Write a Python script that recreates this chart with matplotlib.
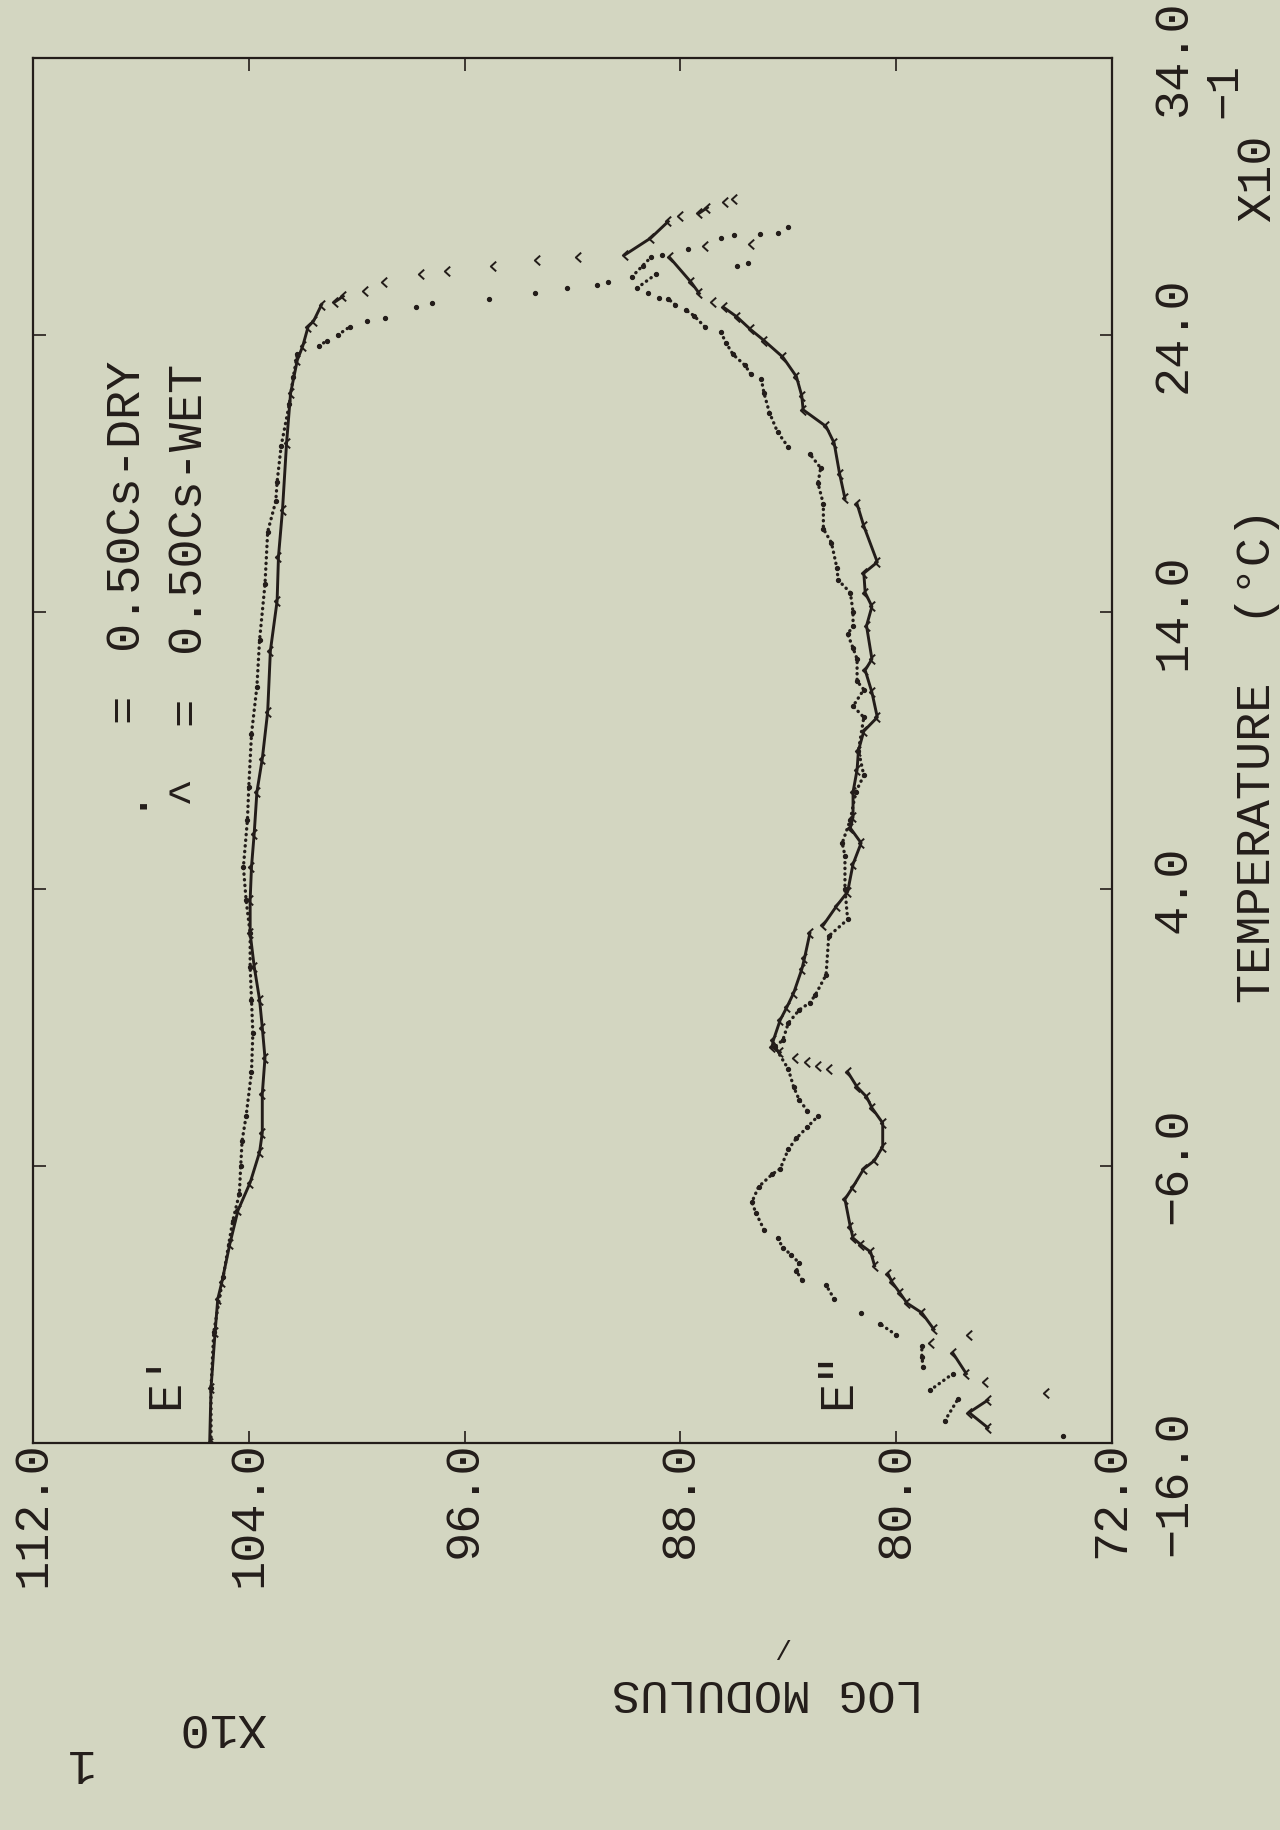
import matplotlib
matplotlib.use('Agg')
import matplotlib.pyplot as plt
import matplotlib.transforms as mtransforms
import numpy as np

# page is a landscape plotter chart turned 90 degrees: x = log modulus, y = temperature
modulus_ticks = [112, 104, 96, 88, 80, 72]
temp_ticks = [-16, -6, 4, 14, 24, 34]

# E' (storage), dry sample
e1_dry_t = [-16.0, -14.0, -12.0, -10.0, -8.0, -7.0, -6.0, -5.1, -4.2, -2.6, -1.2, 0.0, 1.2, 2.4,
            3.6, 4.8, 6.5, 7.7, 9.6, 11.3, 13.0, 15.0, 16.9, 18.0, 18.7, 20.0, 21.5, 22.5, 23.3,
            23.6, 23.8, 24.0, 24.3, 24.5, 24.6, 25.0, 25.15, 25.3, 25.5, 25.7, 25.8, 25.9, 26.1,
            26.5, 26.8, 26.9, 27.1, 27.5, 27.6, 27.65, 27.7, 27.9]
e1_dry_m = [105.4, 105.4, 105.3, 104.95, 104.6, 104.35, 104.3, 104.25, 104.1, 103.9, 103.85, 103.9,
            103.95, 103.95, 104.1, 104.2, 104.05, 104.0, 103.9, 103.7, 103.6, 103.4, 103.3, 103.0,
            102.95, 102.8, 102.5, 102.35, 102.2, 101.4, 101.1, 100.7, 100.25, 99.6, 98.95, 97.8,
            97.2, 95.1, 93.4, 92.2, 91.1, 90.7, 89.8, 89.4, 89.1, 88.7, 87.7, 86.5, 86.0, 85.05,
            84.4, 84.0]

# E' (storage), wet sample
e1_wet_t = [-16.0, -14.0, -12.0, -10.8, -10.2, -8.8, -7.6, -6.6, -5.5, -4.8, -3.4, -2.1, -1.0, 0.0,
            1.2, 2.4, 3.6, 4.8, 6.0, 7.5, 8.7, 10.4, 12.6, 14.4, 16.0, 17.7, 20.1, 21.9, 23.1, 23.6,
            24.3, 24.5, 25.1, 25.2, 25.4, 25.6, 25.9, 26.2, 26.3, 26.5, 26.7, 26.8, 26.9, 27.5,
            28.1, 28.3, 28.4, 28.6, 28.8, 28.9]
e1_wet_m = [105.45, 105.4, 105.25, 105.15, 105.0, 104.7, 104.4, 103.95, 103.6, 103.5, 103.5, 103.4,
            103.5, 103.6, 103.8, 103.95, 103.95, 103.9, 103.8, 103.7, 103.5, 103.3, 103.2, 102.95,
            102.9, 102.75, 102.6, 102.45, 102.2, 102.0, 101.8, 101.6, 101.3, 100.8, 100.5, 99.7,
            99.0, 97.6, 96.65, 94.95, 93.3, 91.8, 90.05, 89.1, 88.45, 88.0, 87.3, 87.0, 86.35, 86.0]

# E" (loss), dry sample
e2_dry_t = [-15.75, -15.2, -14.4, -14.1, -13.5, -13.25, -12.9, -12.5, -12.1, -11.7, -11.3, -10.8,
            -10.3, -10.1, -9.8, -9.5, -9.2, -8.95, -8.6, -8.3, -7.7, -7.3, -6.75, -6.3, -6.1, -5.4,
            -5.0, -4.6, -4.2, -4.0, -3.6, -3.15, -2.5, -1.7, -1.45, -0.84, -0.37, -0.1, 0.17, 0.9,
            2.3, 2.9, 4.0, 5.2, 5.66, 6.5, 7.5, 8.1, 9.0, 10.2, 10.6, 11.2, 11.5, 12.3, 12.7, 13.2,
            13.5, 14.0, 14.7, 15.15, 15.6, 16.5, 17.0, 17.9, 18.65, 19.2, 19.7, 19.95, 20.5, 21.2,
            21.9, 22.4, 22.6, 22.9, 23.3, 23.7, 24.1, 24.3, 24.7, 24.9, 25.1, 25.3, 25.35, 25.5,
            25.7, 26.2, 26.5, 26.6]
e2_dry_m = [73.8, 78.2, 77.7, 78.75, 77.9, 79.0, 79.05, 79.05, 80.0, 80.6, 81.3, 82.3, 82.6, 83.5,
            83.7, 83.6, 83.9, 84.2, 84.4, 84.9, 85.2, 85.35, 85.1, 84.6, 84.3, 84.0, 83.7, 83.3, 82.9,
            83.3, 83.6, 83.8, 84.0, 84.5, 84.2, 84.0, 83.6, 83.2, 83.0, 82.6, 82.5, 81.8, 81.9, 81.9,
            82.0, 81.7, 81.5, 81.2, 81.4, 81.2, 81.6, 81.2, 81.45, 81.45, 81.6, 81.8, 81.6, 81.6,
            81.7, 82.15, 82.2, 82.4, 82.7, 82.7, 82.9, 82.8, 83.2, 84.0, 84.4, 84.7, 84.9, 85.0, 85.4,
            85.6, 86.05, 86.3, 86.5, 87.1, 87.5, 87.8, 88.2, 88.45, 88.8, 89.2, 89.6, 88.9, 85.9, 85.5]

# E" (loss), wet sample
e2_wet_t = [-15.45, -14.9, -14.45, -14.2, -13.8, -13.5, -12.75, -12.4, -12.1, -11.9, -11.3, -10.95,
            -10.6, -10.2, -9.9, -9.6, -9.1, -8.85, -8.6, -8.2, -7.2, -6.75, -6.1, -5.8, -5.3, -4.45,
            -3.9, -3.5, -3.15, -2.6, -2.5, -2.4, -2.25, -2.1, -1.9, -1.7, -1.45, -0.73, -0.26, 0.25,
            1.1, 1.5, 2.4, 2.7, 3.4, 3.9, 4.9, 5.66, 6.2, 6.6, 7.5, 8.3, 9.0, 9.7, 10.2, 11.1, 11.9,
            12.3, 13.5, 14.2, 14.7, 15.4, 15.8, 17.1, 17.9, 18.1, 19.0, 20.1, 20.7, 21.3, 21.8, 22.5,
            23.2, 23.8, 24.2, 24.65, 25.0, 25.2, 25.5, 25.9, 26.8, 27.2, 27.3]
e2_wet_m = [76.6, 77.3, 76.6, 74.45, 76.7, 77.4, 77.9, 78.7, 77.3, 78.6, 79.05, 79.6, 79.85, 80.15,
            80.3, 80.8, 80.95, 81.3, 81.6, 81.7, 81.9, 81.6, 81.2, 80.8, 80.5, 80.5, 80.9, 81.1, 81.45,
            81.8, 82.5, 82.9, 83.3, 83.75, 84.3, 84.6, 84.55, 84.3, 84.05, 83.8, 83.5, 83.4, 83.2,
            82.7, 82.2, 81.8, 81.6, 81.3, 81.7, 81.6, 81.6, 81.45, 81.4, 81.2, 80.7, 80.9, 81.15,
            80.9, 81.1, 80.9, 81.15, 81.2, 80.7, 81.2, 81.45, 81.9, 82.1, 82.3, 82.6, 83.45, 83.5,
            83.7, 84.2, 84.9, 85.4, 85.9, 86.4, 86.8, 87.3, 87.6, 88.4, 87.1, 85.4]

bg = '#d3d6c1'
ink = '#231d1a'
plt.rcParams['font.family'] = ['Liberation Mono', 'DejaVu Sans Mono']


def with_gaps(t, m, max_slope=1.6):
    # break the connecting line where the curve is steep (sparse samples there)
    t = np.asarray(t, float)
    m = np.asarray(m, float)
    steep = np.abs(np.diff(m) / np.diff(t)) > max_slope
    xs, ys = [m[0]], [t[0]]
    for i in range(len(steep)):
        if steep[i]:
            xs.append(np.nan)
            ys.append(np.nan)
        xs.append(m[i + 1])
        ys.append(t[i + 1])
    return xs, ys


chevron = [(0.55, 1.0), (-0.55, 0.0), (0.55, -1.0)]

fig = plt.figure(figsize=(12.8, 18.3), dpi=100, facecolor=bg)
ax = fig.add_axes([33 / 1280, 1 - 1443 / 1830, 1079 / 1280, 1385 / 1830])
ax.set_facecolor(bg)

for t, m in [(e1_dry_t, e1_dry_m), (e2_dry_t, e2_dry_m)]:
    xs, ys = with_gaps(t, m)
    ax.plot(xs, ys, linestyle=(0, (0.1, 1.6)), lw=2.4, color=ink, dash_capstyle='round')
    ax.plot(m, t, linestyle='none', marker='o', ms=2.8, color=ink, mec=ink)

for t, m in [(e1_wet_t, e1_wet_m), (e2_wet_t, e2_wet_m)]:
    xs, ys = with_gaps(t, m)
    ax.plot(xs, ys, linestyle='-', lw=2.1, color=ink)
    ax.plot(m, t, linestyle='none', marker=chevron, ms=7, mfc='none', mec=ink, mew=1.4)

ax.set_xlim(112, 72)
ax.set_ylim(-16, 34)
ax.set_xticks(modulus_ticks)
ax.set_yticks(temp_ticks)
ax.xaxis.set_major_formatter('{x:.1f}')
ax.yaxis.set_major_formatter('{x:.1f}')
for s in ax.spines.values():
    s.set_linewidth(1.6)
    s.set_color(ink)
ax.tick_params(axis='both', direction='in', length=9, width=1.2, color=ink,
               top=True, bottom=True, left=True, right=True, labelsize=35, labelcolor=ink)
ax.tick_params(axis='x', labelrotation=90, pad=-1)
ax.tick_params(axis='y', labelleft=False, labelright=True, labelrotation=90, pad=28)
for lbl in ax.get_yticklabels():
    lbl.set_va('center')
low = ax.get_yticklabels()[0]
low.set_transform(low.get_transform() +
                  mtransforms.ScaledTranslation(0, -0.4, fig.dpi_scale_trans))

# legend and curve labels, written the way the plotter did
for x0, mark, name, ym, ye, yl in [(0.085, '.', '0.50Cs-DRY', 0.468, 0.531, 0.573),
                                   (0.142, '^', '0.50Cs-WET', 0.472, 0.529, 0.571)]:
    ax.text(x0, ym, mark, transform=ax.transAxes, rotation=90, ha='center', va='center',
            size=34, color=ink)
    ax.text(x0, ye, '=', transform=ax.transAxes, rotation=90, ha='center', va='center',
            size=34, color=ink)
    ax.text(x0, yl, name, transform=ax.transAxes, rotation=90, ha='center', va='bottom',
            size=35, color=ink)
ax.text(0.123, 0.0455, "E'", transform=ax.transAxes, rotation=90, ha='center', va='center',
        size=35, color=ink)
ax.text(0.746, 0.0455, 'E"', transform=ax.transAxes, rotation=90, ha='center', va='center',
        size=35, color=ink)

fig.text(1258 / 1280, 1 - 755 / 1830, 'TEMPERATURE  (°C)', rotation=90, ha='center',
         va='center', size=35, color=ink)
fig.text(1258 / 1280, 1 - 178 / 1830, 'X10', rotation=90, ha='center', va='center',
         size=35, color=ink)
fig.text(1224 / 1280, 1 - 90 / 1830, '−1', rotation=90, ha='center', va='center',
         size=33, color=ink)
fig.text(768 / 1280, 1 - 1692 / 1830, 'LOG MODULUS', rotation=180, ha='center', va='center',
         size=34, color=ink)
fig.text(222 / 1280, 1 - 1727 / 1830, 'X10', rotation=180, ha='center', va='center',
         size=35, color=ink)
fig.text(76 / 1280, 1 - 1762 / 1830, '1', rotation=180, ha='center', va='center',
         size=35, color=ink)
fig.text(781 / 1280, 1 - 1645 / 1830, '/', rotation=180, ha='center', va='center',
         size=20, color=ink)

fig.savefig('out.png', dpi=100, facecolor=bg)
